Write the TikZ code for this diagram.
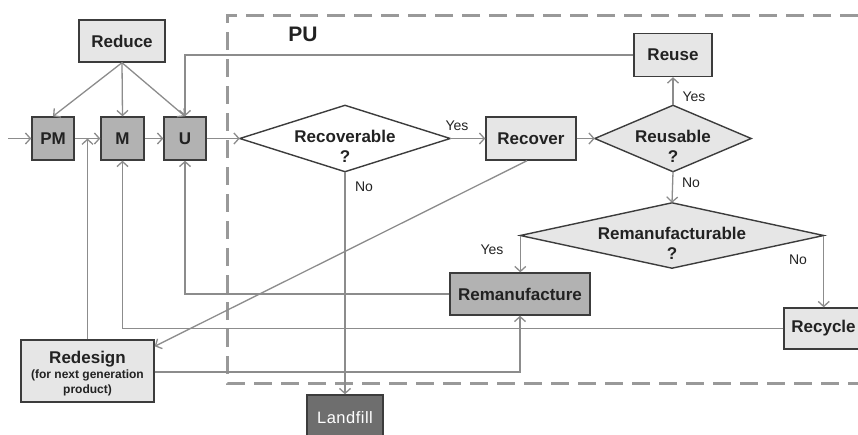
\documentclass[tikz,border=0pt]{standalone}
\usepackage{fontspec}
\setmainfont{Liberation Sans}
\usetikzlibrary{arrows.meta,calc}
\definecolor{ln}{HTML}{8C8C8C}
\definecolor{bd}{HTML}{3C3C3C}
\definecolor{lf}{HTML}{E6E6E6}
\definecolor{df}{HTML}{B2B2B2}
\definecolor{lff}{HTML}{6E6E6E}
\definecolor{dsh}{HTML}{999999}
\definecolor{tx}{HTML}{222222}
\begin{document}
\begin{tikzpicture}[x=1pt,y=-1pt,
  box/.style={draw=bd, line width=1.4pt, fill=lf, font=\fontsize{17}{20}\selectfont\bfseries, inner sep=0pt, align=center, text=tx},
  dbox/.style={box, fill=df},
  conn/.style={draw=ln, line width=1.3pt},
  arr/.style={conn, -{Straight Barb[length=5pt,width=11pt,line width=1.3pt]}},
  dframe/.style={rectangle, inner sep=0pt},
  dshape/.style={draw=bd, line width=1.4pt, line join=miter},
  dtext/.style={font=\fontsize{17}{20}\selectfont\bfseries, align=center, inner sep=0pt, text=tx},
  lab/.style={font=\fontsize{14}{16}\selectfont, inner sep=0pt, text=tx}
]
\useasboundingbox (0,0) rectangle (858,434);
% PU dashed frame
\draw[dsh, line width=3pt, dash pattern=on 18pt off 9pt] (858,15) -- (227,15) -- (227,383) -- (858,383);
\node[font=\fontsize{21}{24}\selectfont\bfseries, inner sep=0pt, text=tx] (pu) at (303,34) {PU};

% boxes
\node[box, minimum width=86, minimum height=42] (reduce) at (122,41) {Reduce};
\node[dbox, minimum width=42, minimum height=43] (pm) at (53,138.5) {PM};
\node[dbox, minimum width=43, minimum height=43] (m) at (122.5,138.5) {M};
\node[dbox, minimum width=42, minimum height=43] (u) at (185,138.5) {U};
\node[box, minimum width=90, minimum height=43] (recover) at (531,138.5) {Recover};
\node[box, minimum width=78, minimum height=43] (reuse) at (673,55) {Reuse};
\node[dbox, minimum width=140, minimum height=42] (reman) at (520,294) {Remanufacture};
\node[box, minimum width=79, minimum height=41] (recycle) at (823.5,328.5) {Recycle};
\node[box, minimum width=133, minimum height=62] (redesign) at (87.5,371) {};
\node[align=center, inner sep=0pt, text=tx, font=\fontsize{12}{15}\selectfont\bfseries] (redesigntext) at ([yshift=-2.5pt]redesign.center) {{\fontsize{17}{17}\selectfont Redesign}\\[0pt](for next generation\\product)};
\node[box, fill=lff, text=white, font=\fontsize{16.5}{19}\selectfont, minimum width=76, minimum height=46] (landfill) at (345,418) {L\kern0.5pt a\kern0.5pt n\kern0.5pt d\kern0.5pt f\kern0.5pt i\kern0.5pt l\kern0.5pt l};

% diamonds
\node[dframe, minimum width=210, minimum height=66] (rec) at (345,138.5) {};
\filldraw[dshape, fill=white] (rec.west) -- (rec.north) -- (rec.east) -- (rec.south) -- cycle;
\node[dtext] (rectext) at ([yshift=-8pt]rec.center) {Recoverable\\?};

\node[dframe, minimum width=156, minimum height=66] (reusable) at (673,138.5) {};
\filldraw[dshape, fill=lf] (reusable.west) -- (reusable.north) -- (reusable.east) -- (reusable.south) -- cycle;
\node[dtext] (reusabletext) at ([yshift=-8pt]reusable.center) {Reusable\\?};

\node[dframe, minimum width=303, minimum height=65] (remable) at (672,235.5) {};
\filldraw[dshape, fill=lf] (remable.west) -- (remable.north) -- (remable.east) -- (remable.south) -- cycle;
\node[dtext] (remabletext) at ([yshift=-8pt]remable.center) {Remanufacturable\\?};

% connectors
\coordinate (in) at (8,138.5);
\draw[arr] (in) -- (pm.west);
\draw[arr] (pm.east) -- (m.west);
\draw[arr] (m.east) -- (u.west);
\draw[arr] (u.east) -- (rec.west);
\draw[arr] (reduce.south) -- (pm.north);
\draw[arr] (reduce.south) -- (m.north);
\draw[arr] (reduce.south) -- (u.north);
\draw[arr] (reuse.west) -| (u.north);
\draw[arr] (rec.east) -- (recover.west);
\draw[arr] (recover.east) -- (reusable.west);
\draw[arr] (reusable.north) -- (reuse.south);
\draw[arr] (reusable.south) -- (remable.north);
\draw[arr] (remable.west) -- (remable.west |- reman.north);
\draw[arr] (remable.east) -- (remable.east |- recycle.north);
\draw[arr] (reman.west) -| (u.south);
\draw[arr] (recycle.west) -| (m.south);
\draw[arr] ([yshift=-1pt]redesign.east) -| (reman.south);
\draw[arr] (redesign.north) -- (redesign.north |- pm.east);
\draw[arr] ([xshift=-4pt]recover.south) -- ([yshift=-7pt]redesign.north east);
\draw[arr] (rec.south) -- (landfill.north);

% labels
\node[lab] (y1) at (457,126) {Yes};
\node[lab] (n1) at (364,187) {No};
\node[lab] (y2) at (694,97) {Yes};
\node[lab] (n2) at (691,183) {No};
\node[lab] (y3) at (492,250) {Yes};
\node[lab] (n3) at (798,260) {No};
\end{tikzpicture}
\end{document}
